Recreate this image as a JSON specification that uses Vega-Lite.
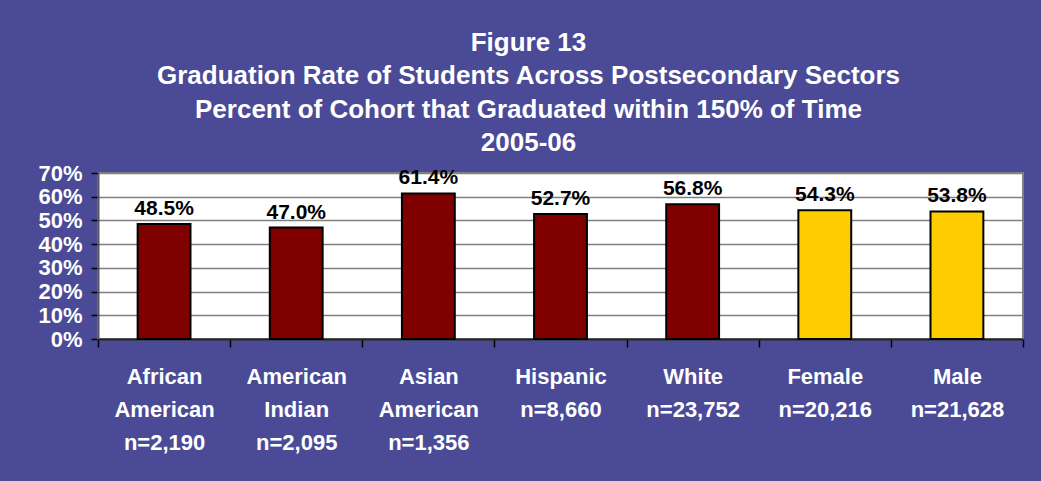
{
  "$schema": "https://vega.github.io/schema/vega-lite/v6.json",
  "autosize": "none",
  "width": 925,
  "height": 166,
  "padding": {"left": 98, "top": 173, "right": 18, "bottom": 142},
  "background": "#4a4a96",
  "view": {"fill": "white", "stroke": "#808080", "strokeWidth": 2},
  "title": {
    "text": ["Figure 13", "Graduation Rate of Students Across Postsecondary Sectors", "Percent of Cohort that Graduated within 150% of Time", "2005-06"],
    "anchor": "middle",
    "dx": -32,
    "offset": 6,
    "font": "Liberation Sans",
    "fontSize": 26,
    "fontWeight": "bold",
    "color": "white",
    "lineHeight": 33.5
  },
  "data": {
    "values": [
      {"category": "African|American|n=2,190", "rate": 0.485, "group": "Race/Ethnicity"},
      {"category": "American|Indian|n=2,095", "rate": 0.470, "group": "Race/Ethnicity"},
      {"category": "Asian|American|n=1,356", "rate": 0.614, "group": "Race/Ethnicity"},
      {"category": "Hispanic|n=8,660", "rate": 0.527, "group": "Race/Ethnicity"},
      {"category": "White|n=23,752", "rate": 0.568, "group": "Race/Ethnicity"},
      {"category": "Female|n=20,216", "rate": 0.543, "group": "Gender"},
      {"category": "Male|n=21,628", "rate": 0.538, "group": "Gender"}
    ]
  },
  "encoding": {
    "x": {
      "field": "category",
      "type": "nominal",
      "sort": null,
      "scale": {"paddingInner": 0, "paddingOuter": 0},
      "axis": {
        "title": null,
        "labelAngle": 0,
        "labelExpr": "split(datum.label, '|')",
        "labelFont": "Liberation Sans",
        "labelFontSize": 22,
        "labelFontWeight": "bold",
        "labelColor": "white",
        "labelLineHeight": 33,
        "labelBaseline": "top",
        "labelPadding": 19,
        "labelLimit": 0,
        "tickBand": "extent",
        "tickSize": 8,
        "tickColor": "black",
        "tickWidth": 1.5,
        "domainColor": "#222222",
        "domainWidth": 2,
        "grid": false
      }
    },
    "y": {
      "field": "rate",
      "type": "quantitative",
      "scale": {"domain": [0, 0.7], "nice": false},
      "axis": {
        "title": null,
        "values": [0, 0.1, 0.2, 0.3, 0.4, 0.5, 0.6, 0.7],
        "format": ".0%",
        "labelFont": "Liberation Sans",
        "labelFontSize": 22,
        "labelFontWeight": "bold",
        "labelColor": "white",
        "labelPadding": 9,
        "labelOverlap": false,
        "labelFlush": false,
        "labelBound": false,
        "tickSize": 7,
        "tickColor": "black",
        "tickWidth": 1.5,
        "domainColor": "#555555",
        "domainWidth": 2,
        "grid": true,
        "gridColor": "#7f7f7f",
        "gridWidth": 1.5
      }
    }
  },
  "layer": [
    {
      "mark": {"type": "bar", "width": {"band": 0.4}, "stroke": "black", "strokeWidth": 2},
      "encoding": {
        "color": {
          "field": "group",
          "type": "nominal",
          "scale": {"domain": ["Race/Ethnicity", "Gender"], "range": ["#800000", "#FFCC00"]},
          "legend": null
        }
      }
    },
    {
      "mark": {"type": "text", "baseline": "bottom", "dy": -5, "font": "Liberation Sans", "fontSize": 21, "fontWeight": "bold", "color": "black"},
      "encoding": {
        "text": {"field": "rate", "type": "quantitative", "format": ".1%"}
      }
    }
  ]
}
